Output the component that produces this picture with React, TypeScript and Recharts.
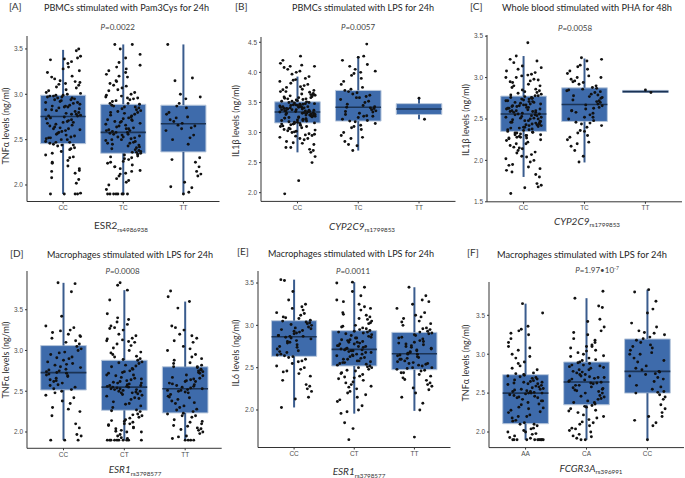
import { ComposedChart, XAxis, YAxis, Scatter, ReferenceArea, ReferenceLine } from 'recharts'

const FONT = "'Liberation Sans', Arial, sans-serif"
const LABEL_FONT = "Lato, 'Liberation Sans', sans-serif"

// genotype categories
const catsA = ['CC', 'TC', 'TT']
const catsB = ['CC', 'TC', 'TT']
const catsC = ['CC', 'TC', 'TT']
const catsD = ['CC', 'CT', 'TT']
const catsE = ['CC', 'CT', 'TT']
const catsF = ['AA', 'CA', 'CC']

// y ticks
const ticksA = [2.0, 2.5, 3.0, 3.5]
const ticksB = [2.0, 2.5, 3.0, 3.5, 4.0, 4.5]
const ticksC = [1.5, 2.0, 2.5, 3.0, 3.5]
const ticksD = [2.0, 2.5, 3.0, 3.5]
const ticksE = [2.0, 2.5, 3.0, 3.5]
const ticksF = [2.0, 2.5, 3.0, 3.5]

// box summaries: [whisker low, q1, median, q3, whisker high]
const statsA_CC = [1.9, 2.456, 2.756, 2.99, 3.49]
const statsA_TC = [1.9, 2.35, 2.58, 2.89, 3.55]
const statsA_TT = [1.9, 2.365, 2.676, 2.88, 3.55]
const statsB_CC = [2.67, 3.16, 3.34, 3.51, 3.93]
const statsB_TC = [2.7, 3.19, 3.42, 3.7, 4.27]
const statsB_TT = [3.22, 3.3, 3.39, 3.48, 3.56]
const statsC_CC = [1.8, 2.35, 2.56, 2.776, 3.26]
const statsC_TC = [1.975, 2.47, 2.675, 2.876, 3.23]
const statsC_TT = [2.82, 2.82, 2.83, 2.845, 2.85]
const statsD_CC = [1.9, 2.515, 2.728, 3.06, 3.83]
const statsD_CT = [1.9, 2.266, 2.55, 2.88, 3.74]
const statsD_TT = [1.9, 2.234, 2.53, 2.8, 3.6]
const statsE_CC = [2.03, 2.634, 2.866, 3.055, 3.54]
const statsE_CT = [1.957, 2.52, 2.716, 2.937, 3.51]
const statsE_TT = [1.99, 2.476, 2.665, 2.917, 3.45]
const statsF_AA = [1.9, 2.107, 2.5, 2.737, 3.65]
const statsF_CA = [1.9, 2.35, 2.643, 2.9, 3.72]
const statsF_CC = [1.9, 2.5, 2.78, 3.196, 3.83]

// individual observations (ng/ml)
const ptsA_CC = [1.9, 1.9, 1.9, 1.91, 2.02, 2.06, 2.13, 2.15, 2.16, 2.21, 2.24, 2.3, 2.31, 2.33, 2.37, 2.4, 2.41, 2.43, 2.44, 2.45,
  2.46, 2.47, 2.5, 2.51, 2.52, 2.55, 2.56, 2.58, 2.6, 2.61, 2.63, 2.64, 2.66, 2.68, 2.69, 2.71, 2.72, 2.74, 2.75, 2.76,
  2.77, 2.78, 2.8, 2.81, 2.83, 2.84, 2.86, 2.87, 2.88, 2.9, 2.91, 2.93, 2.94, 2.95, 2.96, 2.97, 2.98, 2.98, 2.99, 3.0,
  3.02, 3.04, 3.05, 3.08, 3.11, 3.12, 3.13, 3.15, 3.17, 3.2, 3.24, 3.28, 3.3, 3.36, 3.38, 3.39, 3.4, 3.42, 3.48, 3.5,
  1.9, 2.08, 2.18, 2.27, 2.35, 2.39, 2.44, 2.48, 2.5, 2.53, 2.54, 2.57, 2.59, 2.62, 2.65, 2.67, 2.7, 2.73, 2.76, 2.79,
  2.82, 2.85, 2.87, 2.89, 2.92, 2.94, 2.96, 2.97, 2.99, 2.62, 2.78, 2.52, 2.86, 2.91, 3.01, 3.07, 3.1, 3.14, 3.19, 3.26,
  3.34, 2.25, 2.47, 2.69, 2.83]
const ptsA_TC = [1.9, 1.9, 1.9, 1.9, 1.9, 1.9, 1.95, 2.0, 2.03, 2.07, 2.1, 2.13, 2.16, 2.18, 2.2, 2.22, 2.24, 2.26, 2.28, 2.3, 2.31, 2.33, 2.34,
  2.35, 2.36, 2.38, 2.39, 2.4, 2.42, 2.43, 2.45, 2.46, 2.47, 2.49, 2.5, 2.51, 2.52, 2.53, 2.55, 2.56, 2.57, 2.58, 2.58, 2.6,
  2.61, 2.62, 2.64, 2.65, 2.66, 2.68, 2.69, 2.7, 2.71, 2.72, 2.73, 2.74, 2.76, 2.77, 2.79, 2.8, 2.82, 2.83, 2.85, 2.86, 2.88, 2.89,
  2.9, 2.92, 2.94, 2.95, 2.97, 2.98, 3.0, 3.02, 3.05, 3.07, 3.1, 3.12, 3.15, 3.19, 3.22, 3.26, 3.28, 3.3, 3.35, 3.4, 3.44, 3.5, 3.55, 3.55,
  1.9, 1.9, 2.05, 2.15, 2.25, 2.29, 2.32, 2.37, 2.41, 2.44, 2.48, 2.5, 2.54, 2.56, 2.59, 2.6, 2.63, 2.67, 2.7, 2.75, 2.78, 2.81,
  2.84, 2.87, 2.9, 2.93, 2.96, 2.99, 3.04, 3.09, 3.14, 3.2, 3.24, 3.32, 2.12, 2.2, 2.36, 2.46, 2.53, 2.62, 2.72, 2.8, 2.86, 2.96]
const ptsA_TT = [1.9, 1.92, 1.97, 1.98, 2.03, 2.1, 2.12, 2.15, 2.2, 2.25, 2.28, 2.3, 2.45, 2.5, 2.52, 2.55, 2.6, 2.62, 2.63, 2.65,
  2.66, 2.68, 2.7, 2.72, 2.74, 2.75, 2.78, 2.8, 2.85, 2.87, 2.9, 2.95, 2.97, 3.0, 3.15, 3.18, 3.55]

const ptsB_CC = [1.98, 2.2, 2.5, 2.6, 2.67, 2.7, 2.72, 2.75, 2.8, 2.82, 2.85, 2.88, 2.9, 2.92, 2.94, 2.96, 2.98, 3.0, 3.02, 3.03, 3.05, 3.06, 3.08, 3.1, 3.11, 3.12, 3.13, 3.14, 3.15, 3.16,
  3.17, 3.18, 3.19, 3.2, 3.21, 3.22, 3.23, 3.24, 3.25, 3.26, 3.27, 3.28, 3.28, 3.29, 3.3, 3.31, 3.32, 3.32, 3.33, 3.34, 3.34,
  3.35, 3.36, 3.37, 3.38, 3.38, 3.39, 3.4, 3.41, 3.42, 3.42, 3.43, 3.44, 3.45, 3.46, 3.47, 3.48, 3.49, 3.5, 3.51,
  3.52, 3.53, 3.55, 3.56, 3.57, 3.58, 3.6, 3.62, 3.63, 3.65, 3.67, 3.68, 3.7, 3.72, 3.75, 3.78, 3.8, 3.85, 3.88, 3.9, 3.93, 3.97, 4.0, 4.05, 4.08, 4.1, 4.12, 4.15, 4.2, 4.27,
  2.75, 2.83, 2.9, 2.97, 3.01, 3.07, 3.1, 3.14, 3.17, 3.2, 3.22, 3.24, 3.26, 3.28, 3.3, 3.31, 3.33, 3.35, 3.36, 3.37, 3.39, 3.4,
  3.41, 3.43, 3.44, 3.46, 3.48, 3.5, 3.52, 3.54, 3.56, 3.59, 3.61, 3.64, 3.68, 3.71, 3.76, 3.82, 3.87, 4.02, 4.1, 3.15, 3.25,
  3.32, 3.38, 3.45, 3.47, 3.29, 3.36, 3.42, 2.95, 3.04, 3.58, 3.63]
const ptsB_TC = [2.7, 2.78, 2.8, 2.85, 2.9, 2.92, 2.95, 3.0, 3.05, 3.08, 3.1, 3.12, 3.15, 3.18, 3.19, 3.2, 3.22, 3.25, 3.27, 3.28, 3.3, 3.32, 3.34, 3.36, 3.38, 3.4,
  3.41, 3.42, 3.43, 3.45, 3.47, 3.5, 3.52, 3.55, 3.58, 3.6, 3.62, 3.64, 3.66, 3.68, 3.7, 3.72, 3.75, 3.8, 3.85, 3.9, 3.95, 3.98, 4.0, 4.02, 4.05, 4.1, 4.13, 4.2, 4.25, 4.27, 4.47, 3.35, 3.58, 3.27]
const ptsB_TT = [3.57, 3.22]

const ptsC_CC = [1.6, 1.67, 1.68, 1.7, 1.72, 1.8, 1.83, 1.86, 1.9, 1.92, 1.95, 1.98, 2.0, 2.02, 2.05, 2.07, 2.1, 2.12, 2.14, 2.16, 2.18, 2.2, 2.22, 2.24, 2.26, 2.27, 2.28, 2.29, 2.3, 2.31, 2.32, 2.33, 2.34, 2.35,
  2.36, 2.37, 2.38, 2.39, 2.4, 2.41, 2.42, 2.43, 2.44, 2.45, 2.46, 2.47, 2.48, 2.49, 2.5, 2.51, 2.52, 2.53, 2.54, 2.55, 2.56,
  2.57, 2.58, 2.59, 2.6, 2.61, 2.62, 2.63, 2.64, 2.65, 2.66, 2.67, 2.68, 2.69, 2.7, 2.71, 2.72, 2.73, 2.74, 2.75, 2.76, 2.77,
  2.78, 2.8, 2.82, 2.84, 2.86, 2.88, 2.9, 2.92, 2.94, 2.96, 2.98, 3.0, 3.02, 3.04, 3.06, 3.1, 3.14, 3.18, 3.22, 3.26, 3.42,
  1.88, 1.94, 2.04, 2.09, 2.15, 2.2, 2.25, 2.28, 2.31, 2.34, 2.37, 2.4, 2.42, 2.44, 2.46, 2.48, 2.5, 2.52, 2.54, 2.56, 2.58,
  2.6, 2.62, 2.64, 2.66, 2.68, 2.7, 2.72, 2.74, 2.76, 2.78, 2.81, 2.85, 2.9, 2.95, 3.0, 3.03, 3.08, 2.27, 2.3, 2.33, 2.39,
  2.43, 2.47, 2.51, 2.55, 2.59, 2.63, 2.67, 2.71, 2.75, 2.79, 2.83, 2.97, 3.12, 3.2, 2.45, 2.6, 2.65]
const ptsC_TC = [1.98, 2.05, 2.12, 2.17, 2.2, 2.22, 2.25, 2.28, 2.3, 2.33, 2.36, 2.4, 2.42, 2.44, 2.46, 2.48, 2.5, 2.52, 2.55, 2.57, 2.6, 2.62, 2.64, 2.66, 2.68,
  2.7, 2.71, 2.73, 2.75, 2.77, 2.78, 2.8, 2.82, 2.84, 2.86, 2.88, 2.9, 2.92, 2.94, 2.96, 2.98, 3.0, 3.02, 3.05, 3.08, 3.1, 3.13, 3.15, 3.2, 3.22, 3.24, 2.58, 2.63, 2.85,
  2.35, 2.45, 2.52, 2.6, 2.67, 2.72, 2.76, 2.79, 2.83, 2.87, 2.95, 3.0]
const ptsC_TT = [2.85, 2.82]

const ptsD_CC = [1.9, 1.9, 1.9, 1.95, 1.97, 2.05, 2.1, 2.2, 2.25, 2.28, 2.3, 2.35, 2.42, 2.45, 2.5,
  2.52, 2.55, 2.58, 2.6, 2.62, 2.64, 2.66, 2.68, 2.7, 2.71, 2.72, 2.73, 2.75, 2.77, 2.79, 2.8, 2.82, 2.84, 2.86, 2.88, 2.9, 2.92, 2.95, 2.98, 3.0, 3.02, 3.05,
  3.08, 3.12, 3.15, 3.18, 3.2, 3.22, 3.25, 3.28, 3.3, 3.42, 3.72, 3.82, 3.83,
  2.38, 2.53, 2.57, 2.63, 2.69, 2.74, 2.76, 2.83, 2.91, 2.97, 3.1, 3.17, 3.24, 2.48]
const ptsD_CT = [1.9, 1.9, 1.9, 1.9, 1.9, 1.9, 1.9, 1.9, 1.92, 1.95, 1.97, 2.0, 2.0, 2.02, 2.04, 2.06, 2.08, 2.1, 2.1, 2.12, 2.14, 2.15, 2.18, 2.2, 2.22, 2.25,
  2.27, 2.3, 2.32, 2.35, 2.37, 2.4, 2.42, 2.44, 2.46, 2.48, 2.49, 2.5, 2.51, 2.52, 2.53, 2.54, 2.55,
  2.56, 2.57, 2.58, 2.6, 2.62, 2.63, 2.65, 2.67, 2.69, 2.7, 2.72, 2.74, 2.75, 2.77, 2.8, 2.82, 2.84, 2.86, 2.88,
  2.9, 2.93, 2.95, 2.98, 3.0, 3.03, 3.06, 3.1, 3.12, 3.13, 3.15, 3.18, 3.2, 3.25, 3.28, 3.3, 3.35, 3.38, 3.45, 3.62, 3.74, 3.8, 3.83,
  1.9, 1.9, 1.93, 2.01, 2.05, 2.09, 2.13, 2.17, 2.21, 2.26, 2.34, 2.41, 2.45, 2.47, 2.5, 2.52, 2.55, 2.57, 2.59, 2.61,
  2.64, 2.66, 2.7, 2.73, 2.78, 2.81, 2.85, 2.89, 2.92, 2.97, 3.08, 3.11, 3.14, 3.27, 3.32, 3.4, 2.53, 2.56, 2.6, 2.48]
const ptsD_TT = [1.9, 1.9, 1.9, 1.92, 1.95, 1.98, 2.0, 2.02, 2.04, 2.05, 2.08, 2.1, 2.12, 2.15, 2.18, 2.2, 2.22, 2.23,
  2.25, 2.28, 2.3, 2.32, 2.35, 2.38, 2.4, 2.42, 2.44, 2.46, 2.48, 2.5, 2.51, 2.52, 2.53,
  2.55, 2.57, 2.58, 2.6, 2.62, 2.64, 2.65, 2.67, 2.7, 2.72, 2.74, 2.75, 2.77, 2.79, 2.8,
  2.82, 2.85, 2.88, 2.92, 2.95, 3.0, 3.05, 3.1, 3.15, 3.2, 3.25, 3.28, 3.3, 3.52, 3.6, 3.66, 3.73,
  1.9, 1.94, 2.03, 2.07, 2.13, 2.2, 2.27, 2.36, 2.43, 2.49, 2.54, 2.56, 2.59, 2.63, 2.66, 2.69, 2.73, 2.76, 2.8, 2.84,
  2.9, 3.02, 3.12, 3.18, 2.62, 2.51]

const ptsE_CC = [2.03, 2.13, 2.15, 2.22, 2.25, 2.28, 2.3, 2.35, 2.4, 2.43, 2.45, 2.48, 2.5, 2.52, 2.55, 2.58, 2.6, 2.62, 2.63,
  2.64, 2.66, 2.68, 2.7, 2.72, 2.75, 2.77, 2.79, 2.8, 2.82, 2.84, 2.85, 2.86,
  2.87, 2.88, 2.9, 2.92, 2.94, 2.95, 2.97, 2.98, 3.0, 3.02, 3.03, 3.04, 3.05,
  3.06, 3.08, 3.1, 3.12, 3.14, 3.15, 3.2, 3.22, 3.25, 3.3, 3.4, 3.53, 3.54,
  2.46, 2.57, 2.65, 2.69, 2.74, 2.81, 2.87, 2.91, 2.96, 3.01, 3.09, 3.18, 2.88, 2.93]
const ptsE_CT = [1.65, 1.78, 1.85, 1.96, 1.98, 2.0, 2.1, 2.12, 2.15, 2.2, 2.22, 2.25, 2.28, 2.3, 2.32, 2.35, 2.37, 2.38, 2.4, 2.42, 2.44, 2.46, 2.48, 2.5, 2.51,
  2.52, 2.54, 2.56, 2.57, 2.58, 2.6, 2.61, 2.62, 2.64, 2.65, 2.66, 2.68, 2.69, 2.7, 2.71,
  2.72, 2.73, 2.75, 2.76, 2.78, 2.8, 2.82, 2.83, 2.85, 2.86, 2.88, 2.9, 2.91, 2.92, 2.93,
  2.95, 2.97, 2.98, 3.0, 3.02, 3.05, 3.07, 3.1, 3.12, 3.15, 3.2, 3.25, 3.28, 3.35, 3.45, 3.5, 3.51,
  2.05, 2.18, 2.27, 2.33, 2.39, 2.43, 2.47, 2.5, 2.53, 2.55, 2.58, 2.6, 2.63, 2.66, 2.68, 2.7, 2.72, 2.74, 2.76, 2.78,
  2.79, 2.81, 2.83, 2.85, 2.87, 2.89, 2.92, 2.94, 2.96, 2.99, 3.03, 3.08, 3.13, 3.18, 3.22, 3.3, 3.4, 2.71, 2.75, 2.8, 2.64, 2.56]
const ptsE_TT = [1.68, 2.0, 2.08, 2.15, 2.2, 2.24, 2.28, 2.3, 2.32, 2.35, 2.38, 2.4, 2.42, 2.44, 2.46, 2.47,
  2.48, 2.5, 2.52, 2.54, 2.55, 2.56, 2.58, 2.6, 2.61, 2.62, 2.64, 2.65, 2.66,
  2.67, 2.69, 2.7, 2.72, 2.74, 2.75, 2.77, 2.79, 2.8, 2.82, 2.84, 2.86, 2.88, 2.9, 2.91,
  2.93, 2.95, 2.97, 3.0, 3.02, 3.05, 3.08, 3.1, 3.15, 3.2, 3.25, 3.3, 3.35, 3.45,
  2.26, 2.36, 2.44, 2.49, 2.53, 2.57, 2.6, 2.63, 2.66, 2.68, 2.71, 2.73, 2.76, 2.78, 2.81, 2.85, 2.89, 2.92, 2.96, 3.04,
  3.12, 3.28, 2.5, 2.55]

const ptsF_AA = [1.9, 1.9, 1.9, 1.9, 1.9, 1.9, 1.9, 1.9, 1.9, 1.92, 1.95, 1.97, 1.98, 2.0, 2.02, 2.05, 2.08, 2.1,
  2.12, 2.15, 2.18, 2.2, 2.22, 2.25, 2.28, 2.3, 2.32, 2.35, 2.38, 2.4, 2.42, 2.44, 2.46, 2.48, 2.49, 2.5,
  2.51, 2.52, 2.53, 2.55, 2.56, 2.58, 2.6, 2.62, 2.63, 2.64, 2.65, 2.67, 2.69, 2.7, 2.72, 2.74,
  2.76, 2.8, 2.85, 2.9, 2.95, 3.0, 3.05, 3.08, 3.15, 3.2, 3.25, 3.3, 3.32, 3.36, 3.53, 3.65,
  1.9, 1.9, 1.93, 2.0, 2.04, 2.1, 2.14, 2.2, 2.26, 2.31, 2.36, 2.4, 2.44, 2.47, 2.5, 2.52, 2.54, 2.57, 2.59, 2.61,
  2.64, 2.66, 2.68, 2.71, 2.73, 2.75, 2.82, 2.88, 2.97, 3.1, 3.27, 2.5, 2.45, 2.55, 2.62]
const ptsF_CA = [1.9, 1.9, 1.92, 1.95, 1.97, 2.0, 2.02, 2.05, 2.08, 2.1, 2.13, 2.16, 2.2, 2.22, 2.25, 2.28, 2.3, 2.32, 2.34,
  2.36, 2.38, 2.4, 2.43, 2.45, 2.47, 2.5, 2.52, 2.54, 2.56, 2.58, 2.6, 2.62, 2.63,
  2.65, 2.67, 2.69, 2.7, 2.72, 2.74, 2.76, 2.78, 2.8, 2.82, 2.84, 2.86, 2.88, 2.9,
  2.92, 2.95, 2.98, 3.0, 3.02, 3.05, 3.08, 3.1, 3.12, 3.15, 3.2, 3.25, 3.3, 3.35, 3.45, 3.6, 3.62, 3.72, 3.81,
  1.94, 2.04, 2.12, 2.18, 2.27, 2.33, 2.38, 2.42, 2.46, 2.5, 2.53, 2.57, 2.6, 2.63, 2.66, 2.68, 2.71, 2.74, 2.77, 2.8,
  2.83, 2.86, 2.89, 2.93, 2.97, 3.04, 3.1, 3.18, 3.28, 3.42, 2.64, 2.7, 2.85, 2.55]
const ptsF_CC = [1.9, 2.08, 2.12, 2.15, 2.2, 2.25, 2.3, 2.35, 2.42, 2.48, 2.5, 2.52, 2.55, 2.6, 2.65, 2.7, 2.72, 2.74, 2.75, 2.78,
  2.8, 2.85, 2.9, 2.95, 3.0, 3.02, 3.05, 3.1, 3.12, 3.15, 3.2, 3.22, 3.25, 3.28, 3.3, 3.35, 3.4, 3.53, 3.58, 3.68, 3.8, 3.83,
  2.2, 2.45, 2.58, 2.68, 2.77, 2.82, 2.92, 3.08, 3.18, 3.27, 2.51, 3.0]

// fixed horizontal jitter pattern (category units)
const JITTER = [-0.21, 0.13, -0.05, 0.27, -0.28, 0.02, 0.19, -0.14, 0.08, -0.24, 0.24, -0.09, 0.15, -0.18, 0.05, 0.29, -0.02,
  -0.26, 0.11, -0.11, 0.22, -0.16, 0.0, 0.17, -0.07, 0.26, -0.22, 0.09, -0.29, 0.04, 0.2, -0.12, 0.14, -0.03, 0.28, -0.19, 0.07]

const BOX_FILL = '#3e6bab'
const BOX_EDGE = '#b9c8dc'
const WHISKER = '#3a5c8e'
const MEDIAN = '#1b3354'

const panels = [
  { key: 'A', L: 26.5, T: 36, R: 219, B: 201.5, domain: [1.818, 3.643], ticks: ticksA, cats: catsA, stats: [statsA_CC, statsA_TC, statsA_TT], groups: [ptsA_CC, ptsA_TC, ptsA_TT] },
  { key: 'B', L: 260.5, T: 37, R: 455, B: 201.4, domain: [1.855, 4.588], ticks: ticksB, cats: catsB, stats: [statsB_CC, statsB_TC, statsB_TT], groups: [ptsB_CC, ptsB_TC, ptsB_TT] },
  { key: 'C', L: 487, T: 34.5, R: 682, B: 201.3, domain: [1.5, 3.514], ticks: ticksC, cats: catsC, stats: [statsC_CC, statsC_TC, statsC_TT], groups: [ptsC_CC, ptsC_TC, ptsC_TT] },
  { key: 'D', L: 26.8, T: 271, R: 221.5, B: 448.3, domain: [1.8, 3.975], ticks: ticksD, cats: catsD, stats: [statsD_CC, statsD_CT, statsD_TT], groups: [ptsD_CC, ptsD_CT, ptsD_TT] },
  { key: 'E', L: 257.5, T: 271, R: 450, B: 447.5, domain: [1.557, 3.642], ticks: ticksE, cats: catsE, stats: [statsE_CC, statsE_CT, statsE_TT], groups: [ptsE_CC, ptsE_CT, ptsE_TT] },
  { key: 'F', L: 489, T: 282, R: 684, B: 447.6, domain: [1.8, 3.928], ticks: ticksF, cats: catsF, stats: [statsF_AA, statsF_CA, statsF_CC], groups: [ptsF_AA, ptsF_CA, ptsF_CC] },
]

const Dot = (props: any) => <circle cx={props.cx} cy={props.cy} r={1.45} fill="#111" />

const tickStyle = { fontSize: 6.5, fill: '#4d4d4d', fontFamily: FONT }

function Panel({ cfg }: { cfg: any }) {
  const yw = 22
  const mt = 3
  const xh = 16
  const mr = 1
  const w = cfg.R - cfg.L + yw + mr
  const h = cfg.B - cfg.T + mt + xh
  const pts = cfg.groups.flatMap((vals: number[], gi: number) =>
    vals.map((v, i) => ({ x: gi + 1 + JITTER[(i * 5 + gi * 11) % JITTER.length], y: v }))
  )
  return (
    <div style={{ position: 'absolute', left: cfg.L - yw, top: cfg.T - mt }}>
      <ComposedChart width={w} height={h} margin={{ top: mt, right: mr, bottom: 0, left: 0 }}>
        <XAxis
          type="number"
          dataKey="x"
          domain={[0.4, 3.6]}
          ticks={[1, 2, 3]}
          interval={0}
          allowDataOverflow
          height={xh}
          tickFormatter={(v: number) => cfg.cats[v - 1]}
          tick={tickStyle}
          tickSize={2}
          stroke="#333"
        />
        <YAxis
          type="number"
          dataKey="y"
          domain={cfg.domain}
          ticks={cfg.ticks}
          interval={0}
          allowDataOverflow
          width={yw}
          tickFormatter={(v: number) => v.toFixed(1)}
          tick={tickStyle}
          tickSize={2}
          stroke="#333"
        />
        {cfg.stats.map((s: number[], gi: number) => (
          <ReferenceLine key={'wl' + gi} segment={[{ x: gi + 1, y: s[0] }, { x: gi + 1, y: s[1] }]} stroke={WHISKER} strokeWidth={2} />
        ))}
        {cfg.stats.map((s: number[], gi: number) => (
          <ReferenceLine key={'wh' + gi} segment={[{ x: gi + 1, y: s[3] }, { x: gi + 1, y: s[4] }]} stroke={WHISKER} strokeWidth={2} />
        ))}
        {cfg.stats.map((s: number[], gi: number) => (
          <ReferenceArea key={'bx' + gi} x1={gi + 0.625} x2={gi + 1.375} y1={s[1]} y2={s[3]} fill={BOX_FILL} fillOpacity={1} stroke={BOX_EDGE} strokeWidth={1} />
        ))}
        {cfg.stats.map((s: number[], gi: number) => (
          <ReferenceLine key={'md' + gi} segment={[{ x: gi + 0.625, y: s[2] }, { x: gi + 1.375, y: s[2] }]} stroke={MEDIAN} strokeWidth={1.6} />
        ))}
        <Scatter data={pts} shape={Dot} isAnimationActive={false} />
      </ComposedChart>
    </div>
  )
}

function Labels() {
  const title = { fontFamily: LABEL_FONT, fill: '#262626', fontSize: 9.3 }
  const tag = { fontFamily: LABEL_FONT, fill: '#333', fontSize: 10 }
  const ptxt = { fontFamily: LABEL_FONT, fill: '#444', fontSize: 8 }
  const ylab = { fontFamily: LABEL_FONT, fill: '#333', fontSize: 9 }
  const xt = { fontFamily: LABEL_FONT, fill: '#333', fontSize: 10 }
  const sub = { fontSize: 6.3, fontStyle: 'normal' as const }
  return (
    <svg width={685} height={478} style={{ position: 'absolute', left: 0, top: 0, pointerEvents: 'none' }}>
      <text x={9} y={10} {...tag}>[A]</text>
      <text x={44} y={10.5} {...title} textLength={165} lengthAdjust="spacingAndGlyphs">PBMCs stimulated with Pam3Cys for 24h</text>
      <text x={117.7} y={29.5} textAnchor="middle" {...ptxt}><tspan fontStyle="italic">P</tspan>=0.0022</text>
      <text transform="translate(9,126) rotate(-90)" textAnchor="middle" {...ylab}>TNFα levels (ng/ml)</text>
      <text x={121} y={229} textAnchor="middle" {...xt}>ESR2<tspan {...sub} dy={2.5}>rs4986938</tspan></text>

      <text x={235} y={10} {...tag}>[B]</text>
      <text x={292} y={10.5} {...title} textLength={142} lengthAdjust="spacingAndGlyphs">PBMCs stimulated with LPS for 24h</text>
      <text x={358} y={30} textAnchor="middle" {...ptxt}><tspan fontStyle="italic">P</tspan>=0.0057</text>
      <text transform="translate(239,121) rotate(-90)" textAnchor="middle" {...ylab}>IL1β levels (ng/ml)</text>
      <text x={362} y={229.5} textAnchor="middle" {...xt}><tspan fontStyle="italic">CYP2C9</tspan><tspan {...sub} dy={2.5}>rs1799853</tspan></text>

      <text x={470} y={10} {...tag}>[C]</text>
      <text x={502} y={11} {...title} textLength={170} lengthAdjust="spacingAndGlyphs">Whole blood stimulated with PHA for 48h</text>
      <text x={575} y={30.5} textAnchor="middle" {...ptxt}><tspan fontStyle="italic">P</tspan>=0.0058</text>
      <text transform="translate(469,120) rotate(-90)" textAnchor="middle" {...ylab}>IL1β levels (ng/ml)</text>
      <text x={587} y={224.5} textAnchor="middle" {...xt}><tspan fontStyle="italic">CYP2C9</tspan><tspan {...sub} dy={2.5}>rs1799853</tspan></text>

      <text x={10} y={257} {...tag}>[D]</text>
      <text x={47} y={258} {...title} textLength={166} lengthAdjust="spacingAndGlyphs">Macrophages stimulated with LPS for 24h</text>
      <text x={122.5} y={274} textAnchor="middle" {...ptxt}><tspan fontStyle="italic">P</tspan>=0.0008</text>
      <text transform="translate(9,360) rotate(-90)" textAnchor="middle" {...ylab}>TNFα levels (ng/ml)</text>
      <text x={135} y={473} textAnchor="middle" {...xt}><tspan fontStyle="italic">ESR1</tspan><tspan {...sub} dy={2.5}>rs3798577</tspan></text>

      <text x={237} y={255} {...tag}>[E]</text>
      <text x={268} y={256.5} {...title} textLength={166} lengthAdjust="spacingAndGlyphs">Macrophages stimulated with LPS for 24h</text>
      <text x={353} y={274} textAnchor="middle" {...ptxt}><tspan fontStyle="italic">P</tspan>=0.0011</text>
      <text transform="translate(239,353) rotate(-90)" textAnchor="middle" {...ylab}>IL6 levels (ng/ml)</text>
      <text x={359} y={475} textAnchor="middle" {...xt}><tspan fontStyle="italic">ESR1</tspan><tspan {...sub} dy={2.5}>rs3798577</tspan></text>

      <text x={467} y={256} {...tag}>[F]</text>
      <text x={497} y={257.5} {...title} textLength={170} lengthAdjust="spacingAndGlyphs">Macrophages stimulated with LPS for 24h</text>
      <text x={597} y={272.5} textAnchor="middle" {...ptxt}><tspan fontStyle="italic">P</tspan>=1.97•10<tspan fontSize={5} dy={-3}>-7</tspan></text>
      <text transform="translate(469,363) rotate(-90)" textAnchor="middle" {...ylab}>TNFα levels (ng/ml)</text>
      <text x={591} y={471.5} textAnchor="middle" {...xt}><tspan fontStyle="italic">FCGR3A</tspan><tspan {...sub} dy={2.5}>rs396991</tspan></text>
    </svg>
  )
}

export default function App() {
  return (
    <div style={{ position: 'absolute', left: 0, top: 0, width: 685, height: 478, background: '#fff', overflow: 'hidden' }}>
      {panels.map((p) => (
        <Panel key={p.key} cfg={p} />
      ))}
      <Labels />
    </div>
  )
}
